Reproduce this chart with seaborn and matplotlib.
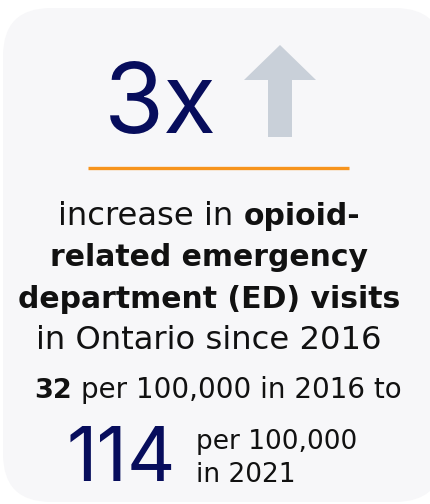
import seaborn as sns
import matplotlib.pyplot as plt
from matplotlib.patches import FancyBboxPatch, Polygon

# Data
multiplier = "3x"
years = [2016, 2021]
rates = [32, 114]
unit = "per 100,000"
region = "Ontario"

# headline: list of lines, each line a list of (text, weight)
headline = [
    [("increase in", "normal"), ("opioid-", "bold")],
    [("related emergency", "bold")],
    [("department (ED) visits", "bold")],
    [(f"in {region} since {years[0]}", "normal")],
]

navy = "#070d5c"
ink = "#111111"
orange = "#f7941d"
arrow_grey = "#c9d0d9"
card_bg = "#f7f7f9"
body_font = ["DejaVu Sans"]
big_font = ["Inter", "DejaVu Sans"]

sns.set_theme(style="white")
plt.rcParams["font.family"] = body_font

fig = plt.figure(figsize=(4.31, 5.04), dpi=100)
ax = fig.add_axes([0, 0, 1, 1])
ax.set_xlim(0, 431)
ax.set_ylim(504, 0)
ax.axis("off")
fig.patch.set_facecolor("white")

# card
card = FancyBboxPatch((3, 8), 440, 494, boxstyle="round,pad=0,rounding_size=48",
                      facecolor=card_bg, edgecolor="none")
ax.add_patch(card)

renderer = fig.canvas.get_renderer()


def text_width(s, size, weight):
    t = ax.text(0, 0, s, fontsize=size, fontweight=weight)
    w = t.get_window_extent(renderer).width
    t.remove()
    return w


def mixed_line(segments, cx, y, sizes, color=ink):
    # sizes: {"normal": pt, "bold": pt}
    sp = sizes["normal"]
    space = text_width("a a", sp, "normal") - text_width("aa", sp, "normal")
    widths = [text_width(s, sizes[w], w) for s, w in segments]
    total = sum(widths) + space * (len(segments) - 1)
    x = cx - total / 2
    for (s, w), wd in zip(segments, widths):
        ax.text(x, y, s, fontsize=sizes[w], fontweight=w, color=color,
                ha="left", va="baseline")
        x += wd + space


# big multiplier + arrow
ax.text(160, 133, multiplier, fontsize=70, color=navy, ha="center",
        va="baseline", family=big_font)
arrow = Polygon([(244, 80), (280, 45), (316, 80), (292, 80), (292, 137),
                 (268, 137), (268, 80)], closed=True, facecolor=arrow_grey,
                edgecolor="none")
ax.add_patch(arrow)

# orange rule
ax.plot([88, 349], [168, 168], color=orange, linewidth=2.4, solid_capstyle="butt")

# headline
body_sizes = {"normal": 23.2, "bold": 21.5}
for i, seg in enumerate(headline):
    mixed_line(seg, 209, 225 + i * 41.3, body_sizes)

# rate line
mixed_line([(str(rates[0]), "bold"), (f"{unit} in {years[0]} to", "normal")],
           218, 398, {"normal": 20, "bold": 19.5})

# big 2021 value
ax.text(176, 481, str(rates[1]), fontsize=54, color=navy, ha="right",
        va="baseline", family=big_font)
ax.text(196, 449, unit, fontsize=19, color=ink, ha="left", va="baseline")
ax.text(196, 482, f"in {years[1]}", fontsize=19, color=ink, ha="left",
        va="baseline")

fig.savefig("out.png", dpi=100, facecolor="white")
